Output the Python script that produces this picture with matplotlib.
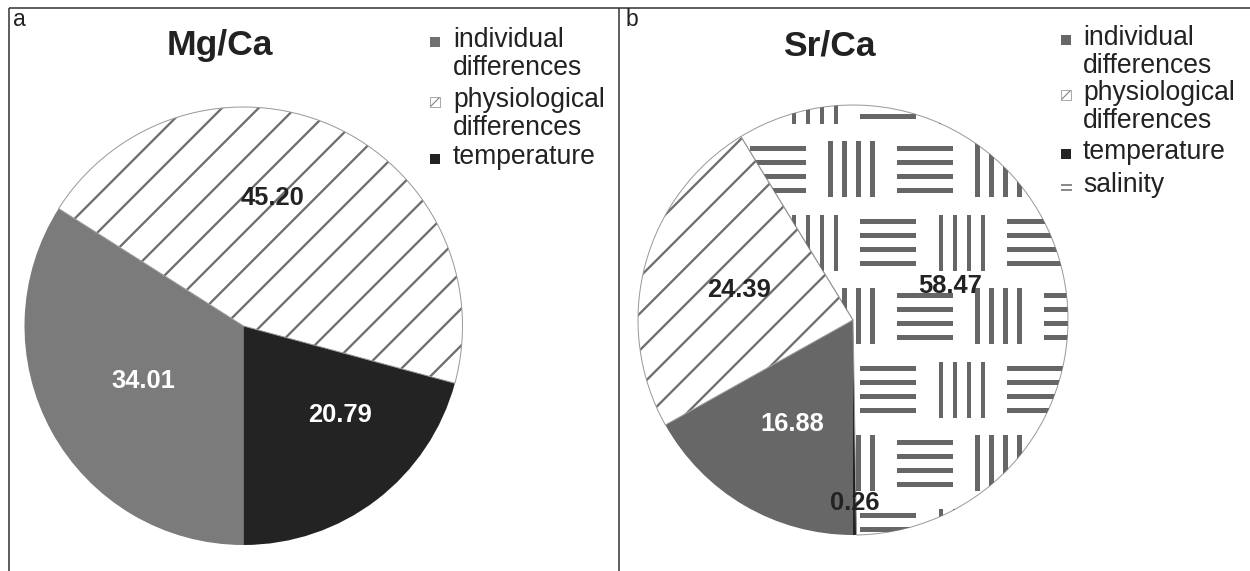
import matplotlib
matplotlib.use('Agg')
import matplotlib.pyplot as plt
from matplotlib.patches import Rectangle
from matplotlib.collections import PatchCollection
import numpy as np

plt.rcParams['font.family'] = ['Liberation Sans', 'DejaVu Sans']
plt.rcParams['hatch.linewidth'] = 0.75

# ---------------- data ----------------
panel_letters = ['a', 'b']
titles = ['Mg/Ca', 'Sr/Ca']

# slices listed clockwise starting at 6 o'clock
mg_categories = ['individual', 'physiological', 'temperature']
mg_values = [34.01, 45.20, 20.79]

sr_categories = ['individual', 'physiological', 'salinity', 'temperature']
sr_values = [16.88, 24.39, 58.47, 0.26]

legend_a = ['individual', 'physiological', 'temperature']
legend_b = ['individual', 'physiological', 'temperature', 'salinity']
legend_text = {
    'individual': ['individual', 'differences'],
    'physiological': ['physiological', 'differences'],
    'temperature': ['temperature'],
    'salinity': ['salinity'],
}

# ---------------- layout / style ----------------
W, H = 1250, 571
DPI = 220
PT = 72.0 / DPI  # points per pixel


def fs(px):
    return px * PT


fig = plt.figure(figsize=(W / DPI, H / DPI), dpi=DPI)
ax = fig.add_axes([0, 0, 1, 1])


def Y(yd):
    return H - yd


DARK_TXT = '#222222'
TEMP = '#232323'
HATCH_C = '#6e6e6e'
OUTLINE = '#9a9a9a'

# frame lines
for xs, ys in [((9, 9), (8, H)), ((619, 619), (8, H)), ((9, W), (8, 8))]:
    ax.plot(xs, [Y(v) for v in ys], color='#3a3a3a', lw=1.6 * PT,
            solid_capstyle='butt')


def draw_pie(categories, values, center, radius, indiv_color, label_colors,
             label_dists, label_dang):
    cx, cy = center
    face = {'individual': indiv_color, 'physiological': 'white',
            'temperature': TEMP, 'salinity': 'white'}
    wedges, _ = ax.pie(values, center=(cx, cy), radius=radius,
                       startangle=-90, counterclock=False,
                       colors=[face[c] for c in categories],
                       wedgeprops=dict(linewidth=0), frame=True)
    for w, c in zip(wedges, categories):
        if c == 'physiological':
            w.set_hatch('//')
            w.set_edgecolor(HATCH_C)
            w.set_linewidth(0)
        else:
            w.set_edgecolor('none')
    # outline for white slices
    outl, _ = ax.pie(values, center=(cx, cy), radius=radius,
                     startangle=-90, counterclock=False,
                     wedgeprops=dict(fill=False, linewidth=1.0 * PT),
                     frame=True)
    for w, c in zip(outl, categories):
        if c in ('physiological', 'salinity'):
            w.set_edgecolor(OUTLINE)
        else:
            w.set_edgecolor('none')
    for w, v, lc, d, da in zip(wedges, values, label_colors, label_dists,
                               label_dang):
        ang = np.deg2rad((w.theta1 + w.theta2) / 2.0 + da)
        ax.text(cx + d * radius * np.cos(ang), cy + d * radius * np.sin(ang),
                '%.2f' % v, ha='center', va='center', fontsize=fs(25.5),
                fontweight='bold', color=lc, zorder=5)
    return dict(zip(categories, wedges))


# ---- panel a ----
wa = draw_pie(mg_categories, mg_values, (243.5, Y(326)), 219, '#7b7b7b',
              ['white', DARK_TXT, 'white'], [0.52, 0.6, 0.6], [0, 11, 10])

# ---- panel b ----
wb = draw_pie(sr_categories, sr_values, (853, Y(320)), 215, '#676767',
              ['white', DARK_TXT, DARK_TXT, DARK_TXT],
              [0.56, 0.55, 0.48, 0.85], [0, 0, 3, 0])

# weave pattern for salinity
cell = 73.5
rects = []
for j in range(-3, 8):
    yc = 169 + j * cell
    shift = 0 if j % 2 == 0 else -cell / 2
    for k in range(-4, 9):
        xc = 778 + shift + k * cell
        for off in (-21, -7, 7, 21):
            if k % 2 == 0:
                rects.append(Rectangle((xc - 28, Y(yc + off) - 2.5), 56, 5))
            else:
                rects.append(Rectangle((xc + off - 2.25, Y(yc) - 28), 4.5, 56))
pc = PatchCollection(rects, facecolor='#666666', edgecolor='none', zorder=2)
ax.add_collection(pc)
pc.set_clip_path(wb['salinity'])

# panel letters and titles
ax.text(13, Y(20), 'a', fontsize=fs(23), ha='left', va='center', color='#222')
ax.text(626, Y(20), 'b', fontsize=fs(23), ha='left', va='center', color='#222')
ax.text(220, Y(46), titles[0], fontsize=fs(35.5), fontweight='bold',
        ha='center', va='center', color='#222')
ax.text(829, Y(46), titles[1], fontsize=fs(35.5), fontweight='bold',
        ha='center', va='center', color='#222')


def legend(items, mx, tx, ys, gap, indiv_color):
    for it, y0 in zip(items, ys):
        lines = legend_text[it]
        for i, ln in enumerate(lines):
            ax.text(tx, Y(y0 + i * gap), ln, fontsize=fs(26.5), ha='left',
                    va='center', color='#222')
        yc = Y(y0 + 2)
        if it == 'individual':
            ax.add_patch(Rectangle((mx, yc - 5), 10, 10, facecolor=indiv_color,
                                   edgecolor='none'))
        elif it == 'temperature':
            ax.add_patch(Rectangle((mx, yc - 5), 10, 10, facecolor=TEMP,
                                   edgecolor='none'))
        elif it == 'physiological':
            ax.add_patch(Rectangle((mx, yc - 5), 10, 10, facecolor='white',
                                   edgecolor='#aaaaaa', lw=1 * PT))
            ax.plot([mx + 1, mx + 9], [yc - 4, yc + 4], color='#888888',
                    lw=1.2 * PT)
        elif it == 'salinity':
            for dy in (-2.5, 2.5):
                ax.plot([mx, mx + 11], [yc + dy, yc + dy], color='#8a8a8a',
                        lw=2 * PT, solid_capstyle='butt')


legend(legend_a, 430, 453, [40, 100, 157], 28, '#707070')
legend(legend_b, 1061, 1083, [38, 93, 152, 185], 28, '#676767')

ax.set_xlim(0, W)
ax.set_ylim(0, H)
ax.set_aspect('auto')
ax.axis('off')
fig.savefig('out.png', dpi=DPI, facecolor='white')
